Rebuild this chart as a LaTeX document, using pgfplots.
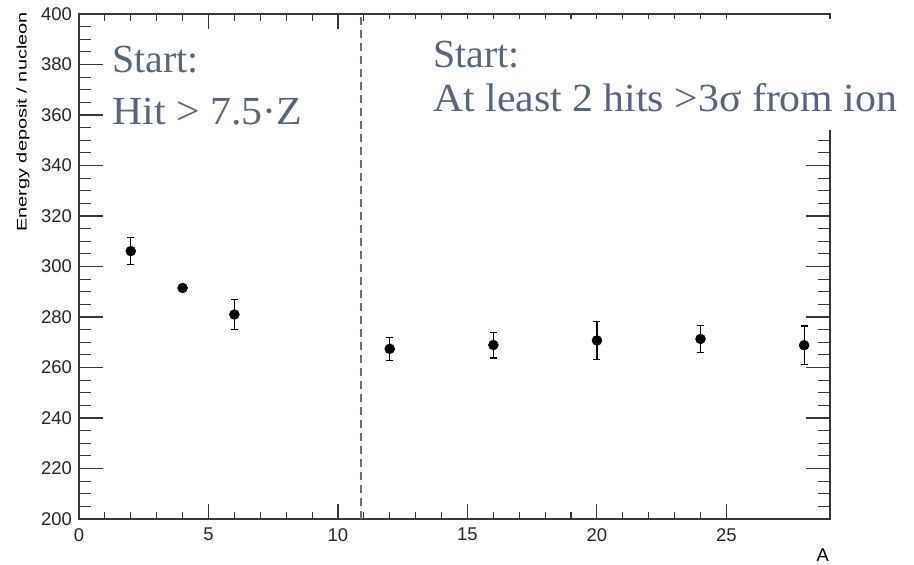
\documentclass[border=0pt]{standalone}
\usepackage{pgfplots}
\pgfplotsset{compat=1.18}
\usepackage{pgfplotstable}
\usepackage{graphicx}
\usepackage{fontspec}
\setmainfont{Liberation Sans}
\newfontfamily\garfont{Liberation Serif}
\definecolor{annot}{RGB}{89,101,128}
\definecolor{dashc}{RGB}{100,110,135}
\definecolor{axc}{RGB}{55,55,55}

\pgfplotstableread{
x y err
2 306.1 5.4
4 291.5 1.0
6 281.0 5.9
12 267.4 4.6
16 268.9 5.1
20 270.7 7.5
24 271.3 5.4
28 268.8 7.6
}\datatable

\begin{document}
\begin{tikzpicture}
\useasboundingbox (0,0) rectangle (914bp,565bp);
\pgfplotsset{common/.style={
  at={(79bp,46bp)}, anchor=south west,
  width=751bp, height=505bp, scale only axis,
  xmin=0, xmax=29, ymin=200, ymax=400,
  axis line style={axc, line width=1.1bp},
  tick style={axc, line width=1.1bp},
  tick align=inside, tick pos=both,
  ticklabel style={font=\fontsize{18.5}{20}\selectfont, text=black!85},
  /pgf/number format/assume math mode=true,
}}
\begin{axis}[common,
  xtick={0,5,...,25}, minor x tick num=4, ytick=\empty,
  major tick length=15bp, minor tick length=7bp,
  xticklabel pos=left,
  xticklabel style={inner sep=0pt, anchor=north, yshift=-9bp},
]
\addplot[draw=none, forget plot] coordinates {(0,200)};
\end{axis}
\begin{axis}[common,
  xtick=\empty, ytick={200,220,...,400}, minor y tick num=3,
  major tick length=24bp, minor tick length=12bp,
  yticklabel pos=left,
  yticklabel style={inner sep=0pt, anchor=east, xshift=-7bp},
]
\addplot[dashc, line width=1.6bp, dash pattern=on 8bp off 5bp] coordinates {(10.9,200) (10.9,400)};
\addplot[only marks, mark=*, mark size=5bp, black,
  error bars/.cd, y dir=both, y explicit, error mark=-,
  error bar style={line width=1.2bp, black},
  error mark options={rotate=90, mark size=3.5bp, line width=1.2bp, black}]
  table[x=x, y=y, y error=err] {\datatable};
\end{axis}
% white text box of the right annotation, covering part of the frame
\fill[white] (370bp,435bp) rectangle (914bp,546bp);
\node[rotate=90, anchor=base east, inner sep=0pt, font=\fontsize{14}{16}\selectfont]
  at (26.7bp,553bp) {\scalebox{1.43}[1]{Energy deposit / nucleon}};
\node[anchor=base east, inner sep=0pt, font=\fontsize{18.5}{20}\selectfont]
  at (829bp,3.5bp) {A};
\node[anchor=base west, inner sep=0pt, font=\garfont\fontsize{40}{44}\selectfont, text=annot]
  at (112bp,492bp) {Start:};
\node[anchor=base west, inner sep=0pt, font=\garfont\fontsize{40}{44}\selectfont, text=annot]
  at (112bp,440bp) {\resizebox{190bp}{\height}{Hit > 7.5·Z}};
\node[anchor=base west, inner sep=0pt, font=\garfont\fontsize{40}{44}\selectfont, text=annot]
  at (433bp,497bp) {Start:};
\node[anchor=base west, inner sep=0pt, font=\garfont\fontsize{40}{44}\selectfont, text=annot]
  at (433bp,453.3bp) {\resizebox{464bp}{\height}{At least 2 hits >3σ from ion}};
\end{tikzpicture}
\end{document}
